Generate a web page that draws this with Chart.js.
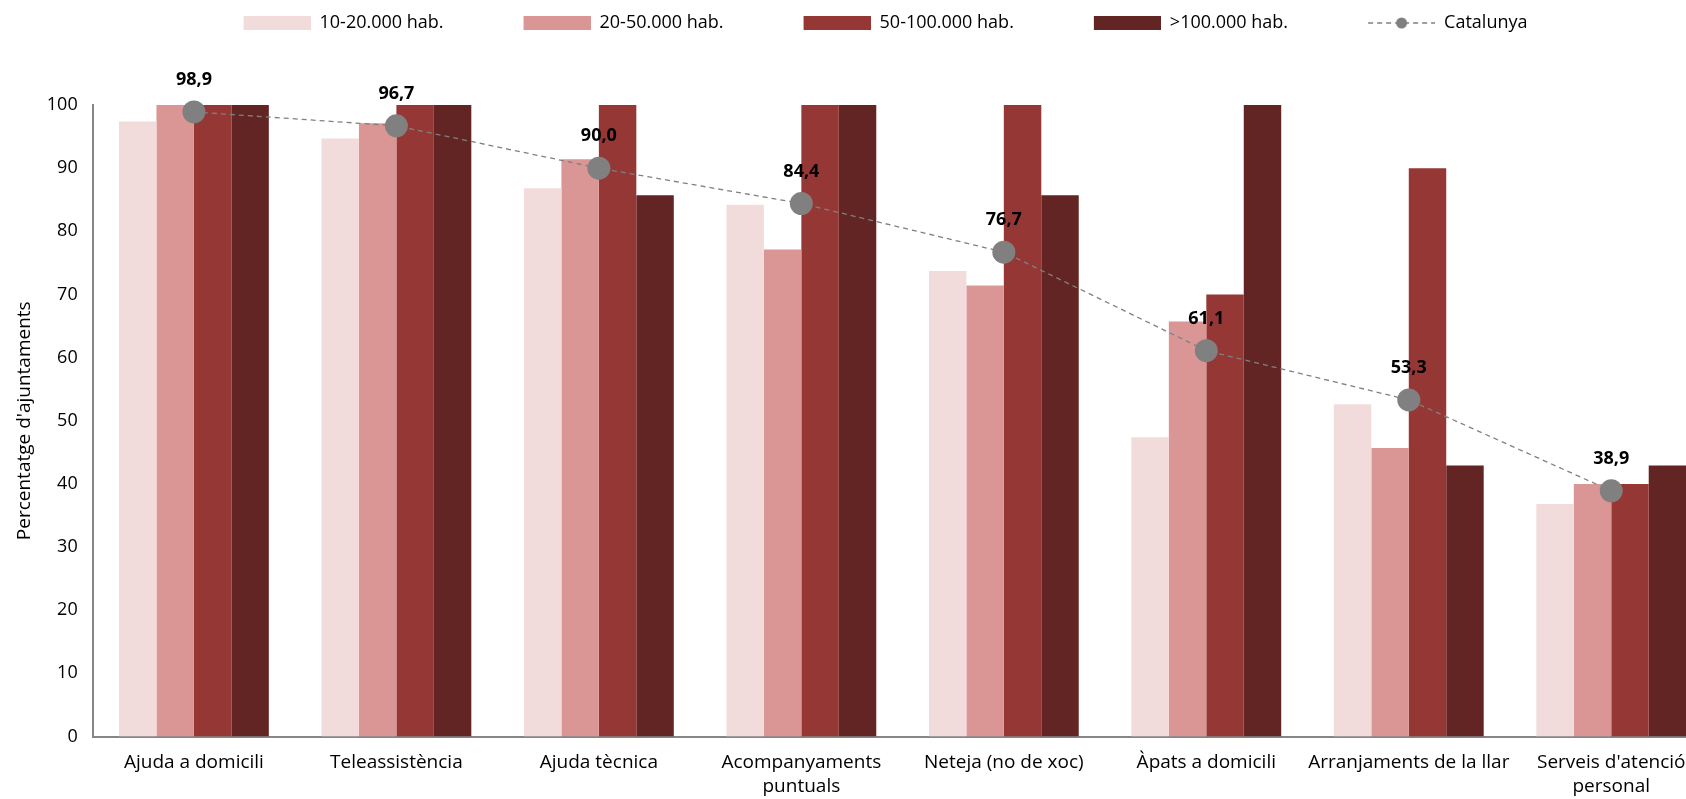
<!DOCTYPE html>
<html>
<head>
<meta charset="utf-8">
<script src="https://cdn.jsdelivr.net/npm/chart.js@4"></script>
<style>
  body { margin: 0; background: #fff; }
  #frame { width: 1686px; height: 799px; overflow: hidden; position: relative; }
  #wrap { width: 1724px; height: 799px; position: relative; }
</style>
</head>
<body>
<div id="frame"><div id="wrap"><canvas id="serveisChart"></canvas></div></div>
<script>
const categories = ['Ajuda a domicili', 'Teleassistència', 'Ajuda tècnica', ['Acompanyaments', 'puntuals'],
    'Neteja (no de xoc)', 'Àpats a domicili', 'Arranjaments de la llar', ["Serveis d'atenció", 'personal']];
const hab10_20 = [97.4, 94.7, 86.8, 84.2, 73.7, 47.4, 52.6, 36.8];
const hab20_50 = [100, 97.1, 91.4, 77.1, 71.4, 65.7, 45.7, 40.0];
const hab50_100 = [100, 100, 100, 100, 100, 70.0, 90.0, 40.0];
const hab100 = [100, 100, 85.7, 100, 85.7, 100, 42.9, 42.9];
const catalunya = [98.9, 96.7, 90.0, 84.4, 76.7, 61.1, 53.3, 38.9];
const yTicks = [0, 10, 20, 30, 40, 50, 60, 70, 80, 90, 100];

const fontFamily = "'Open Sans', 'Noto Sans', sans-serif";
const colors = ['#f2dcdb', '#da9694', '#953735', '#632523'];
const legendGap = 66;

// simbols de la llegenda, amb un espai transparent a l'esquerra
function boxImage(color) {
    const c = document.createElement('canvas');
    c.width = legendGap + 67;
    c.height = 14;
    const ctx = c.getContext('2d');
    ctx.fillStyle = color;
    ctx.fillRect(legendGap, 0, 67, 14);
    return c;
}

function lineImage() {
    const c = document.createElement('canvas');
    c.width = legendGap + 67;
    c.height = 14;
    const ctx = c.getContext('2d');
    ctx.strokeStyle = '#808080';
    ctx.lineWidth = 1.3;
    ctx.setLineDash([5, 4]);
    ctx.beginPath();
    ctx.moveTo(legendGap, 7);
    ctx.lineTo(legendGap + 67, 7);
    ctx.stroke();
    ctx.fillStyle = '#808080';
    ctx.beginPath();
    ctx.arc(legendGap + 33.5, 7, 5.5, 0, Math.PI * 2);
    ctx.fill();
    return c;
}

// mes espai sota la llegenda, i la llegenda centrada a la part visible
const legendSpace = {
    id: 'legendSpace',
    beforeInit(chart) {
        const origFit = chart.legend.fit;
        chart.legend.fit = function () {
            origFit.bind(chart.legend)();
            this.height += 63;
        };
    },
    afterLayout(chart) {
        chart.legend.right -= 28;
    }
};

// etiquetes de valor sobre els punts de Catalunya
const valueLabels = {
    id: 'valueLabels',
    afterDatasetsDraw(chart) {
        const ctx = chart.ctx;
        const meta = chart.getDatasetMeta(4);
        ctx.save();
        ctx.font = 'bold 18px ' + fontFamily;
        ctx.fillStyle = '#000';
        ctx.textAlign = 'center';
        ctx.textBaseline = 'middle';
        meta.data.forEach((pt, i) => {
            ctx.fillText(catalunya[i].toFixed(1).replace('.', ','), pt.x, pt.y - 32);
        });
        ctx.restore();
    }
};

const barSet = (label, data, color) => ({
    type: 'bar',
    label: label,
    data: data,
    backgroundColor: color,
    borderWidth: 0,
    categoryPercentage: 0.74,
    barPercentage: 1.0,
    order: 1
});

new Chart(document.getElementById('serveisChart').getContext('2d'), {
    data: {
        labels: categories,
        datasets: [
            barSet('10-20.000 hab.', hab10_20, colors[0]),
            barSet('20-50.000 hab.', hab20_50, colors[1]),
            barSet('50-100.000 hab.', hab50_100, colors[2]),
            barSet('>100.000 hab.', hab100, colors[3]),
            {
                type: 'line',
                label: 'Catalunya',
                data: catalunya,
                borderColor: '#808080',
                borderWidth: 1.3,
                borderDash: [5, 4],
                pointRadius: 11.5,
                pointHoverRadius: 11.5,
                pointBackgroundColor: '#808080',
                pointBorderWidth: 0,
                fill: false,
                clip: false,
                order: 0
            }
        ]
    },
    options: {
        responsive: true,
        maintainAspectRatio: false,
        animation: false,
        layout: { padding: { top: 0, left: 9, right: 0, bottom: -13 } },
        scales: {
            x: {
                grid: { display: false, drawTicks: false },
                border: { color: '#868686', width: 2 },
                ticks: {
                    color: '#000',
                    font: { family: fontFamily, size: 19, lineHeight: 1.25 },
                    padding: 14,
                    maxRotation: 0,
                    autoSkip: false
                }
            },
            y: {
                min: 0,
                max: 100,
                afterBuildTicks: (axis) => { axis.ticks = yTicks.map(v => ({ value: v })); },
                grid: { display: false, drawTicks: true, tickLength: 7, tickColor: '#868686', tickWidth: 2 },
                border: { color: '#868686', width: 2 },
                ticks: {
                    color: '#000',
                    font: { family: fontFamily, size: 18 },
                    padding: 8
                },
                title: {
                    display: true,
                    text: "Percentatge d'ajuntaments",
                    color: '#000',
                    font: { family: fontFamily, size: 19 },
                    padding: { bottom: 3 }
                }
            }
        },
        plugins: {
            legend: {
                position: 'top',
                labels: {
                    usePointStyle: true,
                    pointStyleWidth: legendGap + 67,
                    boxHeight: 18,
                    padding: 14,
                    color: '#000',
                    font: { family: fontFamily, size: 18 },
                    generateLabels(chart) {
                        const items = Chart.defaults.plugins.legend.labels.generateLabels(chart);
                        items.sort((a, b) => a.datasetIndex - b.datasetIndex);
                        items.forEach((item) => {
                            const i = item.datasetIndex;
                            item.pointStyle = i < 4 ? boxImage(colors[i]) : lineImage();
                            item.lineWidth = 0;
                        });
                        return items;
                    }
                }
            },
            tooltip: { enabled: false }
        }
    },
    plugins: [legendSpace, valueLabels]
});
</script>
</body>
</html>
